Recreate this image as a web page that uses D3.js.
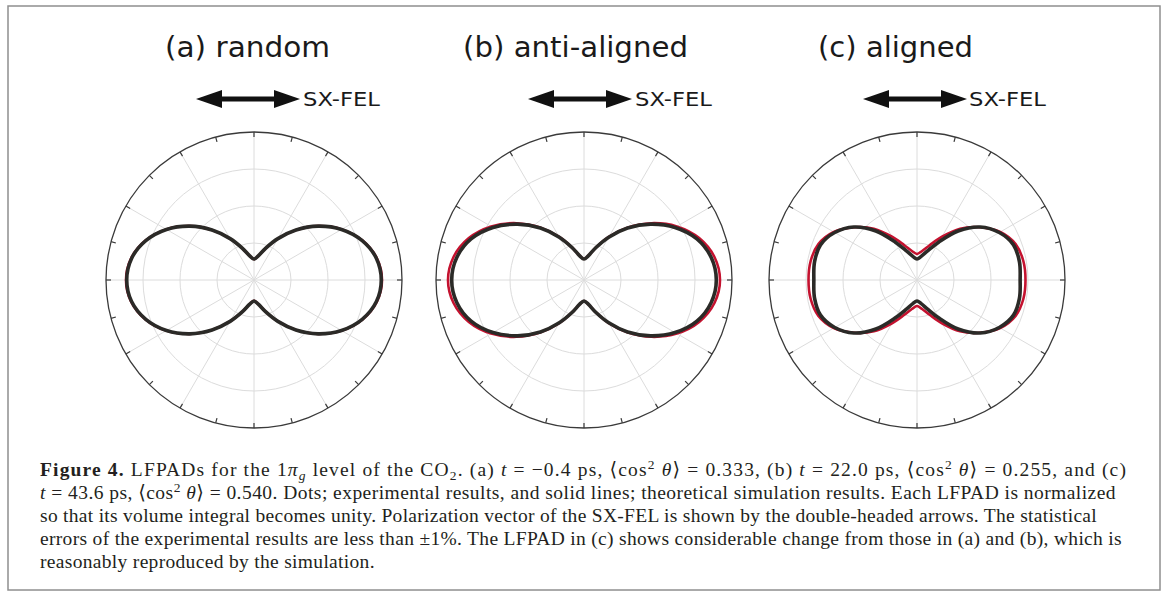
<!DOCTYPE html>
<html>
<head>
<meta charset="utf-8">
<script src="https://cdn.jsdelivr.net/npm/d3@7"></script>
<style>
  body { margin: 0; background: #fff; }
  svg { display: block; }
  text { white-space: pre; }
</style>
</head>
<body>
<svg id="fig" width="1170" height="596"></svg>
<script>
// polar angles (deg from the SX-FEL polarization axis), first quadrant;
// the other quadrants are mirrored from it
const angles = [0, 10, 20, 30, 40, 50, 60, 70, 80, 90];

// radii, normalized to the outer circle of each panel
const randomTheory = [0.865, 0.843, 0.780, 0.684, 0.566, 0.440, 0.322, 0.226, 0.164, 0.141];
const randomExp    = [0.860, 0.840, 0.778, 0.683, 0.566, 0.441, 0.323, 0.228, 0.166, 0.142];
const antiTheory   = [0.919, 0.895, 0.828, 0.724, 0.597, 0.463, 0.336, 0.232, 0.166, 0.142];
const antiExp      = [0.894, 0.873, 0.812, 0.710, 0.587, 0.458, 0.334, 0.232, 0.166, 0.142];
const alignTheory  = [0.733, 0.730, 0.709, 0.649, 0.554, 0.453, 0.338, 0.250, 0.199, 0.176];
const alignExp     = [0.697, 0.703, 0.694, 0.642, 0.557, 0.432, 0.297, 0.209, 0.162, 0.142];

const titles = ["(a) random", "(b) anti-aligned", "(c) aligned"];
const arrowLabel = "SX-FEL";
const ringTicks = [0.25, 0.5, 0.75];

const panels = [
  {title: titles[0], theory: randomTheory, exp: randomExp, cx: 254, tx: 165, tw: 165, ax: 196, lx: 303},
  {title: titles[1], theory: antiTheory,   exp: antiExp,   cx: 584, tx: 463, tw: 225, ax: 528, lx: 635},
  {title: titles[2], theory: alignTheory,  exp: alignExp,  cx: 917, tx: 818, tw: 155, ax: 863, lx: 969}
];

const captionLines = [
  [["Figure 4.", "b"], [" LFPADs for the 1"], ["π", "i"], ["g", "isub"], [" level of the CO"], ["2", "sub"],
   [". (a) "], ["t", "i"], [" = −0.4 ps, ⟨cos"], ["2", "sup"], [" "], ["θ", "i"], ["⟩ = 0.333, (b) "],
   ["t", "i"], [" = 22.0 ps, ⟨cos"], ["2", "sup"], [" "], ["θ", "i"], ["⟩ = 0.255, and (c)"]],
  [["t", "i"], [" = 43.6 ps, ⟨cos"], ["2", "sup"], [" "], ["θ", "i"],
   ["⟩ = 0.540. Dots; experimental results, and solid lines; theoretical simulation results. Each LFPAD is normalized"]],
  [["so that its volume integral becomes unity. Polarization vector of the SX-FEL is shown by the double-headed arrows. The statistical"]],
  [["errors of the experimental results are less than ±1%. The LFPAD in (c) shows considerable change from those in (a) and (b), which is"]],
  [["reasonably reproduced by the simulation."]]
];
const captionEnds = [1127, 1116, 1097, 1122, null];

const svg = d3.select("#fig");
const cy = 280;
const R = 148;

// frame round the figure
svg.append("rect")
  .attr("x", 8).attr("y", 6)
  .attr("width", 1152).attr("height", 584)
  .attr("fill", "none")
  .attr("stroke", "#8f8f8f")
  .attr("stroke-width", 1.5);

const rScale = d3.scaleLinear().domain([0, 1]).range([0, R]);

// full turn from the quadrant values (mirror about both axes)
function fullTurn(vals) {
  const n = angles.length;
  const pts = [];
  for (let i = 0; i < n - 1; i++) pts.push({phi: angles[i], r: vals[i]});
  for (let i = n - 1; i > 0; i--) pts.push({phi: 180 - angles[i], r: vals[i]});
  for (let i = 0; i < n - 1; i++) pts.push({phi: 180 + angles[i], r: vals[i]});
  for (let i = n - 1; i > 0; i--) pts.push({phi: 360 - angles[i], r: vals[i]});
  return pts;
}

const radial = d3.lineRadial()
  .angle(d => Math.PI / 2 - d.phi * Math.PI / 180)
  .radius(d => rScale(d.r))
  .curve(d3.curveCatmullRomClosed.alpha(0.5));

panels.forEach(p => {
  const g = svg.append("g").attr("transform", "translate(" + p.cx + "," + cy + ")");

  // grid rings
  g.selectAll(".ring")
    .data(ringTicks)
    .enter().append("circle")
      .attr("r", d => rScale(d))
      .attr("fill", "none")
      .attr("stroke", "#dcdcdc")
      .attr("stroke-width", 1);

  // spokes every 30 deg
  g.selectAll(".spoke")
    .data(d3.range(0, 360, 30))
    .enter().append("line")
      .attr("x1", 0).attr("y1", 0)
      .attr("x2", d => rScale(1) * Math.cos(d * Math.PI / 180))
      .attr("y2", d => -rScale(1) * Math.sin(d * Math.PI / 180))
      .attr("stroke", "#dcdcdc")
      .attr("stroke-width", 1);

  // outer circle + ticks every 15 deg
  g.append("circle")
    .attr("r", rScale(1))
    .attr("fill", "none")
    .attr("stroke", "#3a3a3a")
    .attr("stroke-width", 1.3);

  g.selectAll(".tick")
    .data(d3.range(0, 360, 15))
    .enter().append("line")
      .attr("x1", d => rScale(1) * Math.cos(d * Math.PI / 180))
      .attr("y1", d => -rScale(1) * Math.sin(d * Math.PI / 180))
      .attr("x2", d => (rScale(1) - 5) * Math.cos(d * Math.PI / 180))
      .attr("y2", d => -(rScale(1) - 5) * Math.sin(d * Math.PI / 180))
      .attr("stroke", "#3a3a3a")
      .attr("stroke-width", 1.2);

  // simulation (red) under experiment (dark dots)
  g.append("path")
    .datum(fullTurn(p.theory))
    .attr("d", radial)
    .attr("fill", "none")
    .attr("stroke", "#c4122f")
    .attr("stroke-width", 2.6);

  g.append("path")
    .datum(fullTurn(p.exp))
    .attr("d", radial)
    .attr("fill", "none")
    .attr("stroke", "#2b2a27")
    .attr("stroke-width", 3.6);

  // title
  svg.append("text")
    .attr("x", p.tx).attr("y", 57)
    .attr("textLength", p.tw)
    .attr("lengthAdjust", "spacingAndGlyphs")
    .style("font-family", "DejaVu Sans, sans-serif")
    .style("font-size", "28px")
    .attr("fill", "#1a1a1a")
    .text(p.title);

  // double-headed arrow
  const ay = 99, x0 = p.ax, x1 = p.ax + 104, head = 26, hw = 9;
  svg.append("line")
    .attr("x1", x0 + head - 2).attr("x2", x1 - head + 2)
    .attr("y1", ay).attr("y2", ay)
    .attr("stroke", "#111").attr("stroke-width", 5);
  svg.append("path")
    .attr("d", "M" + x0 + "," + ay + "L" + (x0 + head) + "," + (ay - hw) + "L" + (x0 + head) + "," + (ay + hw) + "Z")
    .attr("fill", "#111");
  svg.append("path")
    .attr("d", "M" + x1 + "," + ay + "L" + (x1 - head) + "," + (ay - hw) + "L" + (x1 - head) + "," + (ay + hw) + "Z")
    .attr("fill", "#111");
  svg.append("text")
    .attr("x", p.lx).attr("y", 106)
    .attr("textLength", 77)
    .attr("lengthAdjust", "spacingAndGlyphs")
    .style("font-family", "DejaVu Sans, sans-serif")
    .style("font-size", "20px")
    .attr("fill", "#1a1a1a")
    .text(arrowLabel);
});

// caption
const capX = 40;
let lastSpacing = 0;
captionLines.forEach((segs, li) => {
  const t = svg.append("text")
    .attr("x", capX).attr("y", 476 + li * 23)
    .style("font-family", "Liberation Serif, DejaVu Serif, serif")
    .style("font-size", "19.5px")
    .attr("fill", "#231f20");
  let off = 0;
  let nChars = 0;
  segs.forEach(([s, st]) => {
    const target = (st === "sub" || st === "isub") ? 4 : (st === "sup" ? -7 : 0);
    const ts = t.append("tspan").attr("dy", target - off).text(s);
    off = target;
    nChars += s.length;
    if (st === "b") ts.style("font-weight", "bold");
    if (st === "i" || st === "isub") ts.style("font-style", "italic");
    if (st === "sub" || st === "isub" || st === "sup") ts.style("font-size", "13.5px");
  });
  if (captionEnds[li] != null) {
    const w = t.node().getComputedTextLength();
    lastSpacing = (captionEnds[li] - capX - w) / nChars;
  }
  t.style("letter-spacing", lastSpacing + "px");
});
</script>
</body>
</html>
